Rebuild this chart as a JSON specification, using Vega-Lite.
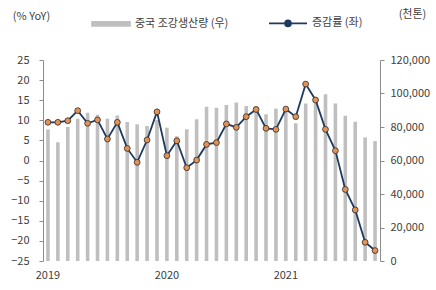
{
  "$schema": "https://vega.github.io/schema/vega-lite/v6.json",
  "width": 337,
  "height": 201,
  "autosize": "none",
  "padding": {"left": 43, "top": 60, "right": 56, "bottom": 29},
  "config": {
    "view": {"stroke": null},
    "font": "Noto Sans CJK KR",
    "axis": {"labelFont": "Noto Sans CJK KR", "titleFont": "Noto Sans CJK KR", "labelFontSize": 11, "labelColor": "#404040", "titleColor": "#404040", "titleFontSize": 11, "titleFontWeight": "normal", "grid": false, "labelOverlap": false},
    "legend": {"labelFont": "Noto Sans CJK KR", "labelFontSize": 11, "labelColor": "#404040"}
  },
  "data": {"values": [
    {"month": "2019-01", "yoy": 9.5, "prod": 78600},
    {"month": "2019-02", "yoy": 9.5, "prod": 70900},
    {"month": "2019-03", "yoy": 9.9, "prod": 80000},
    {"month": "2019-04", "yoy": 12.4, "prod": 84900},
    {"month": "2019-05", "yoy": 9.25, "prod": 88500},
    {"month": "2019-06", "yoy": 10.1, "prod": 87300},
    {"month": "2019-07", "yoy": 5.35, "prod": 85000},
    {"month": "2019-08", "yoy": 9.5, "prod": 86800},
    {"month": "2019-09", "yoy": 3.0, "prod": 83000},
    {"month": "2019-10", "yoy": -0.45, "prod": 81600},
    {"month": "2019-11", "yoy": 5.1, "prod": 80600},
    {"month": "2019-12", "yoy": 12.1, "prod": 84200},
    {"month": "2020-01", "yoy": 1.2, "prod": 79600},
    {"month": "2020-02", "yoy": 4.9, "prod": 74500},
    {"month": "2020-03", "yoy": -1.8, "prod": 78700},
    {"month": "2020-04", "yoy": 0.1, "prod": 84700},
    {"month": "2020-05", "yoy": 4.0, "prod": 92100},
    {"month": "2020-06", "yoy": 4.45, "prod": 91500},
    {"month": "2020-07", "yoy": 9.1, "prod": 93100},
    {"month": "2020-08", "yoy": 8.25, "prod": 94700},
    {"month": "2020-09", "yoy": 10.9, "prod": 92500},
    {"month": "2020-10", "yoy": 12.7, "prod": 92200},
    {"month": "2020-11", "yoy": 8.0, "prod": 87600},
    {"month": "2020-12", "yoy": 7.75, "prod": 91000},
    {"month": "2021-01", "yoy": 12.8, "prod": 92000},
    {"month": "2021-02", "yoy": 10.9, "prod": 82300},
    {"month": "2021-03", "yoy": 19.0, "prod": 94100},
    {"month": "2021-04", "yoy": 15.05, "prod": 97800},
    {"month": "2021-05", "yoy": 7.75, "prod": 99500},
    {"month": "2021-06", "yoy": 2.45, "prod": 94000},
    {"month": "2021-07", "yoy": -7.2, "prod": 86700},
    {"month": "2021-08", "yoy": -12.3, "prod": 83200},
    {"month": "2021-09", "yoy": -20.35, "prod": 73800},
    {"month": "2021-10", "yoy": -22.4, "prod": 71600}
  ]},
  "encoding": {
    "x": {
      "field": "month", "type": "ordinal",
      "scale": {"paddingInner": 0, "paddingOuter": 0},
      "axis": {"title": null, "values": ["2019-01", "2020-01", "2021-01"], "labelExpr": "slice(datum.value, 0, 4)", "labelAngle": 0, "domain": false, "ticks": false, "tickSize": 0, "labelPadding": 8, "labelColor": "#404040"}
    }
  },
  "layer": [
    {
      "mark": {"type": "bar", "width": {"band": 0.36}},
      "encoding": {
        "y": {"field": "prod", "type": "quantitative",
          "scale": {"domain": [0, 120000], "nice": false},
          "axis": {"orient": "right", "title": "(천톤)", "titleAngle": 0, "titleAlign": "center", "titleBaseline": "middle", "titleX": 32, "titleY": -46, "values": [0, 20000, 40000, 60000, 80000, 100000, 120000], "tickCount": 7, "format": ",.0f", "labelExpr": "format(datum.value, ',.0f')", "tickSize": 4, "labelPadding": 6, "domainColor": "#8c8c8c", "tickColor": "#8c8c8c"}},
        "color": {"datum": "중국 조강생산량 (우)", "type": "nominal",
          "scale": {"domain": ["중국 조강생산량 (우)", "증감률 (좌)"], "range": ["#bfbfbf", "#1f3a60"]},
          "legend": {
            "title": null, "orient": "none", "direction": "horizontal", "legendX": 62, "legendY": -43,
            "symbolSize": 100, "labelOffset": 18, "columnPadding": 36, "padding": 0,
            "encode": {"symbols": {"update": {
              "shape": {"signal": "datum.value === '증감률 (좌)' ? 'M-3.8,0H-0.6M0.6,0H3.8M0.6,0A0.6,0.6 0 1,1 -0.6,0A0.6,0.6 0 1,1 0.6,0' : 'M-3.8,-0.4H3.8V0.4H-3.8Z'"},
              "fill": {"signal": "datum.value === '증감률 (좌)' ? '#e39256' : '#bfbfbf'"},
              "stroke": {"signal": "datum.value === '증감률 (좌)' ? '#1f3a60' : 'transparent'"},
              "strokeWidth": {"value": 1.6},
              "opacity": {"value": 1},
              "fillOpacity": {"value": 1},
              "strokeOpacity": {"value": 1}
            }}}
          }}
      }
    },
    {
      "layer": [
        {
          "mark": {"type": "rule", "color": "#404040", "strokeWidth": 1},
          "encoding": {"y": {"datum": 0, "type": "quantitative"}}
        },
        {
          "mark": {"type": "line", "strokeWidth": 1.8},
          "encoding": {
            "y": {"field": "yoy", "type": "quantitative",
              "scale": {"domain": [-25, 25], "nice": false},
              "axis": {"orient": "left", "title": "(% YoY)", "titleAngle": 0, "titleAlign": "center", "titleBaseline": "middle", "titleX": -12, "titleY": -44, "values": [-25, -20, -15, -10, -5, 0, 5, 10, 15, 20, 25], "tickCount": 11, "tickSize": 4, "labelPadding": 10, "domainColor": "#8c8c8c", "tickColor": "#8c8c8c"}},
            "color": {"datum": "증감률 (좌)", "type": "nominal"}
          }
        },
        {
          "mark": {"type": "point", "filled": true, "fill": "#e39256", "stroke": "#2a2a2a", "strokeWidth": 0.8, "size": 34, "opacity": 1},
          "encoding": {"y": {"field": "yoy", "type": "quantitative"}}
        }
      ]
    }
  ],
  "resolve": {"scale": {"y": "independent"}}
}
